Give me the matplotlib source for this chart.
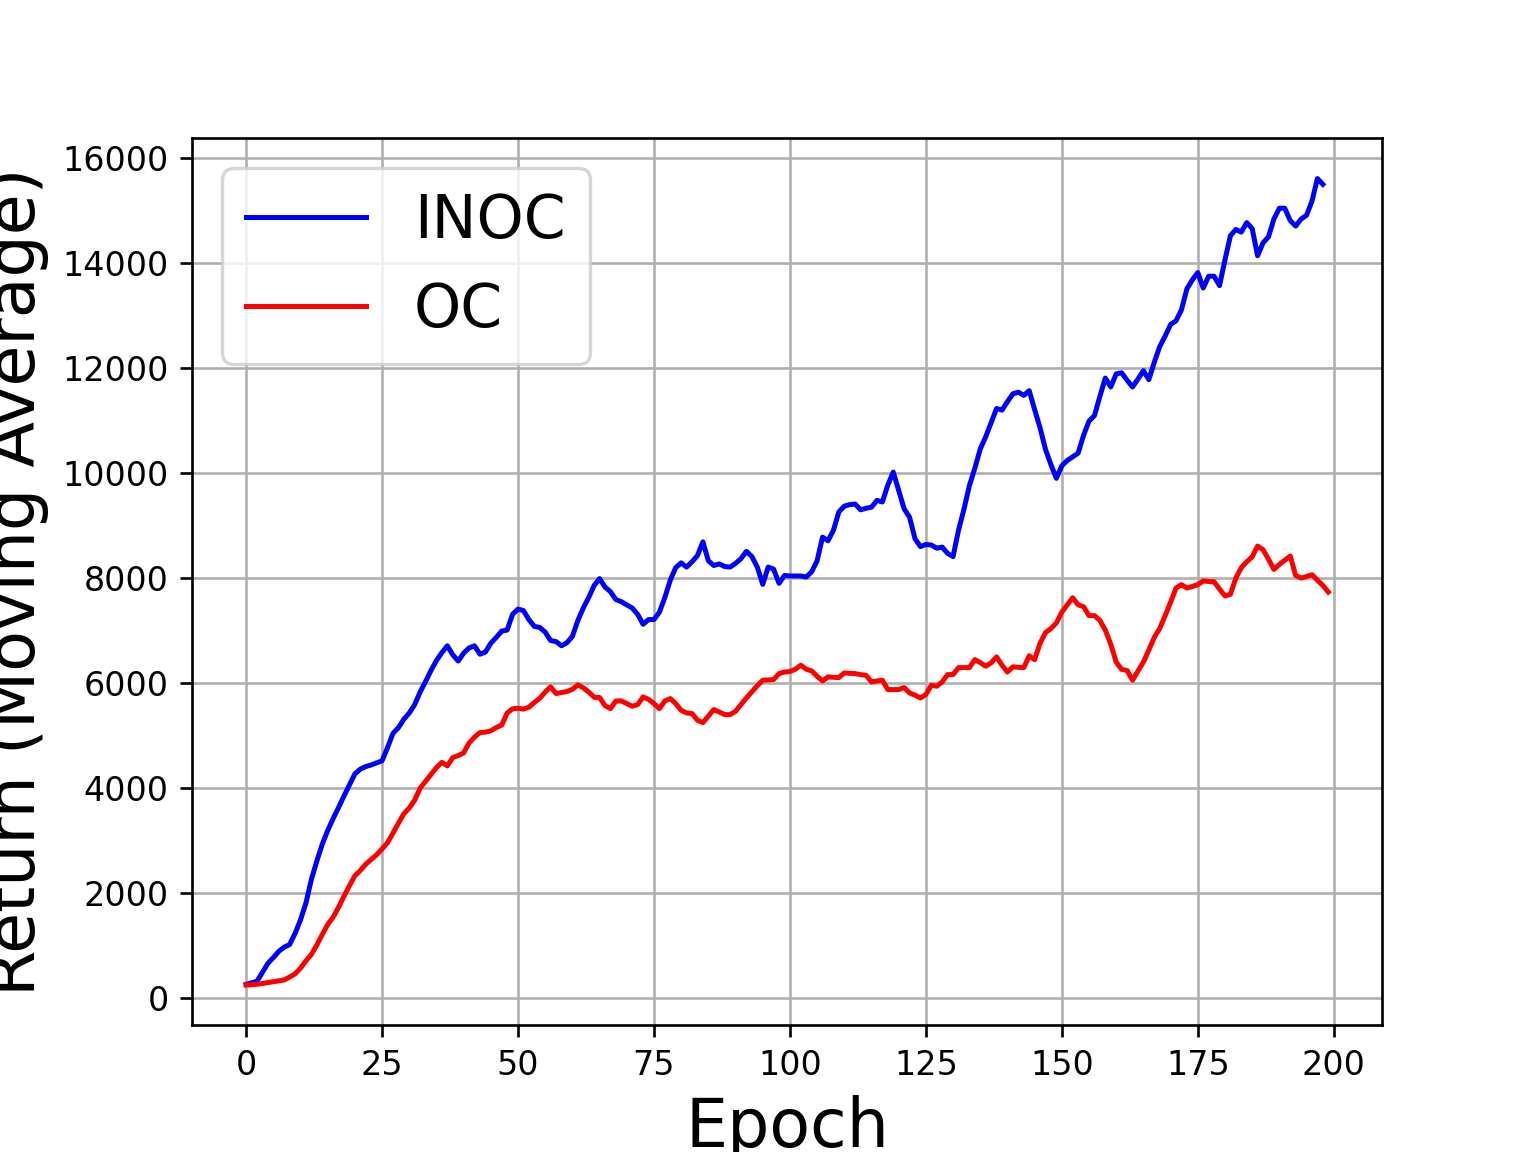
import numpy as np
import matplotlib
matplotlib.use('Agg')
import matplotlib.pyplot as plt

# moving-average return per epoch
inoc_return = [
    250, 280, 310, 480, 650, 760, 880, 960, 1010, 1220,
    1480, 1800, 2250, 2600, 2920, 3180, 3410, 3620, 3840, 4050,
    4260, 4350, 4400, 4430, 4470, 4510, 4760, 5030, 5140, 5300,
    5420, 5580, 5820, 6020, 6230, 6420, 6570, 6700, 6530, 6410,
    6560, 6660, 6700, 6540, 6580, 6750, 6860, 6980, 7000, 7300,
    7400, 7370, 7200, 7070, 7050, 6960, 6800, 6780, 6700, 6760,
    6880, 7180, 7420, 7620, 7850, 7980, 7820, 7730, 7580, 7540,
    7480, 7420, 7300, 7110, 7200, 7200, 7340, 7620, 7950, 8190,
    8280, 8200, 8300, 8420, 8680, 8320, 8230, 8260, 8210, 8200,
    8270, 8360, 8500, 8400, 8200, 7870, 8200, 8160, 7890, 8040,
    8030, 8030, 8030, 8010, 8110, 8320, 8770, 8700, 8900, 9250,
    9360, 9390, 9400, 9290, 9320, 9340, 9470, 9440, 9760, 10010,
    9660, 9310, 9150, 8740, 8590, 8630, 8620, 8560, 8580, 8460,
    8400, 8900, 9300, 9750, 10080, 10450, 10680, 10950, 11220, 11190,
    11350, 11500, 11530, 11470, 11560, 11200, 10850, 10440, 10150, 9890,
    10130, 10230, 10300, 10370, 10710, 10980, 11085, 11450, 11800, 11630,
    11880, 11900, 11760, 11630, 11780, 11940, 11770, 12100, 12400, 12600,
    12820, 12890, 13100, 13500, 13670, 13810, 13515, 13740, 13740, 13560,
    14050, 14510, 14630, 14580, 14760, 14650, 14130, 14375, 14490, 14830,
    15035, 15035, 14800, 14695, 14830, 14900, 15170, 15600, 15490,
]

oc_return = [
    240, 245, 254, 268, 285, 300, 318, 335, 390, 450,
    560, 700, 820, 1000, 1200, 1390, 1530, 1720, 1930, 2130,
    2320, 2420, 2540, 2630, 2720, 2830, 2950, 3130, 3320, 3500,
    3610, 3760, 3990, 4120, 4250, 4380, 4480, 4413, 4572, 4610,
    4660, 4850, 4960, 5048, 5055, 5080, 5144, 5190, 5420, 5500,
    5510, 5495, 5530, 5620, 5700, 5820, 5918, 5791, 5810, 5830,
    5870, 5956, 5900, 5820, 5720, 5715, 5560, 5504, 5650, 5650,
    5600, 5549, 5580, 5726, 5680, 5600, 5504, 5650, 5695, 5600,
    5470, 5422, 5409, 5282, 5238, 5360, 5485, 5440, 5390, 5390,
    5453, 5580, 5707, 5822, 5940, 6044, 6050, 6057, 6171, 6200,
    6210, 6254, 6330, 6254, 6222, 6120, 6031, 6108, 6100, 6095,
    6184, 6175, 6171, 6150, 6139, 6012, 6030, 6044, 5866, 5866,
    5866, 5904, 5803, 5760, 5707, 5771, 5949, 5930, 6012, 6152,
    6152, 6285, 6285, 6285, 6438, 6380, 6311, 6375, 6489, 6330,
    6200, 6300, 6290, 6285, 6510, 6435, 6750, 6950, 7030, 7135,
    7340, 7480, 7615, 7480, 7445, 7275, 7275, 7185, 7000, 6730,
    6390, 6250, 6230, 6045, 6220, 6390, 6620, 6860, 7030, 7275,
    7530, 7800, 7865, 7800, 7830, 7865, 7935, 7925, 7920, 7780,
    7650, 7680, 7990, 8190, 8300, 8395, 8600, 8530, 8350, 8155,
    8250, 8330, 8410, 8040, 7990, 8020, 8055, 7950, 7850, 7725,
]

series_labels = ['INOC', 'OC']

fig, ax = plt.subplots(figsize=(6.4, 4.8), dpi=240)

ax.plot(np.arange(len(inoc_return)), inoc_return, color='b', label=series_labels[0])
ax.plot(np.arange(len(oc_return)), oc_return, color='r', label=series_labels[1])

ax.set_xlabel('Epoch', fontsize=20)
ax.set_ylabel('Return (Moving Average)', fontsize=20)
ax.grid(True)
ax.legend(loc='upper left', fontsize=18)

plt.savefig('out.png', dpi=240)
plt.close()
